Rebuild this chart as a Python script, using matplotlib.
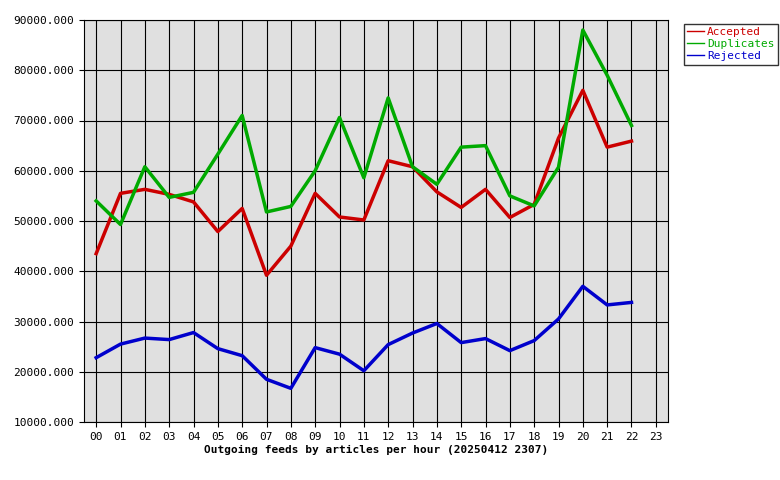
import matplotlib
matplotlib.use("Agg")
import matplotlib.pyplot as plt

hours = list(range(23))
hour_labels = ["%02d" % h for h in range(24)]
accepted = [43500, 55500, 56300, 55300, 53800, 47900, 52500, 39200, 45000, 55500, 50800, 50200,
            62000, 60800, 55800, 52700, 56300, 50700, 53300, 66500, 76000, 64700, 65900]
duplicates = [54000, 49300, 60800, 54700, 55700, 63300, 71000, 51800, 52900, 60000, 70600, 58600,
              74500, 60800, 57300, 64700, 65000, 55000, 53000, 60700, 88000, 79000, 69000]
rejected = [22800, 25500, 26700, 26400, 27800, 24600, 23200, 18500, 16700, 24800, 23500, 20200,
            25400, 27700, 29600, 25800, 26600, 24200, 26200, 30500, 37000, 33300, 33800]

plt.rcParams['font.family'] = ['DejaVu Sans Mono']
plt.rcParams['font.size'] = 8

fig = plt.figure(figsize=(7.8, 4.8), dpi=100)
ax = fig.add_axes([84/780, 58/480, 584/780, 402/480])
ax.set_facecolor('#e0e0e0')
ax.plot(hours, accepted, color='#cc0000', lw=2.5, label='Accepted')
ax.plot(hours, duplicates, color='#00aa00', lw=2.5, label='Duplicates')
ax.plot(hours, rejected, color='#0000cc', lw=2.5, label='Rejected')
ax.set_xlim(-0.5, 23.5)
ax.set_ylim(10000, 90000)
ax.set_xticks(range(24))
ax.set_xticklabels(hour_labels)
ax.set_yticks(range(10000, 90001, 10000))
ax.set_yticklabels(["%d.000" % v for v in range(10000, 90001, 10000)])
ax.grid(True, color='black', lw=0.8)
ax.set_axisbelow(True)
ax.set_xlabel('Outgoing feeds by articles per hour (20250412 2307)', fontweight='bold', labelpad=2)
leg = fig.legend(loc='upper left', bbox_to_anchor=(678/780, 1 - 18/480), frameon=True,
                 fancybox=False, edgecolor='black', handlelength=1.5, borderpad=0.3,
                 labelspacing=0.2, handletextpad=0.3)
for t, c in zip(leg.get_texts(), ['#cc0000', '#00aa00', '#0000cc']):
    t.set_color(c)
for l in leg.get_lines():
    l.set_linewidth(1)
fig.savefig('out.png', dpi=100)
